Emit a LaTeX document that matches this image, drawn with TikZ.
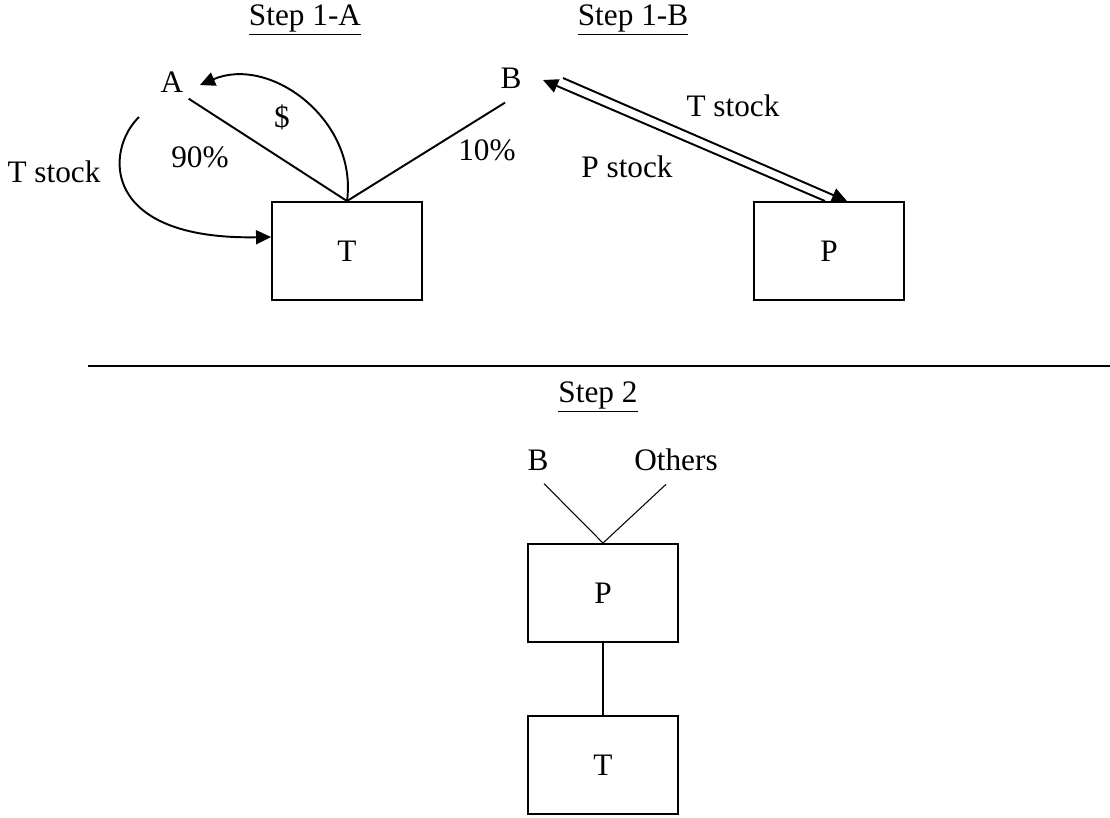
\documentclass[tikz,border=0pt]{standalone}
\usepackage{fontspec}
\setmainfont{Liberation Serif}
\usetikzlibrary{positioning}
\usetikzlibrary{arrows.meta}

\begin{document}
\begin{tikzpicture}[x=0.02cm,y=-0.02cm,
  every node/.style={font=\fontsize{17.8}{21}\selectfont,inner sep=0.2cm},
  entity/.style={draw,line width=1.1pt,minimum width=3cm,minimum height=1.96cm,inner sep=0pt},
  link/.style={line width=1.1pt},
  thinlink/.style={line width=0.6pt},
  flow/.style={line width=1.1pt,-{Triangle[length=0.3cm,width=0.28cm]}}]
 \useasboundingbox (0,0) rectangle (1110,818);
 \node (headA) at (305,20) {\underline{Step 1-A}};
 \node (headB) at (633,20) {\underline{Step 1-B}};
 \node (headC) at (598,397) {\underline{Step 2}};
 \node (A) at (172,82) {A};
 \node (B) at (511,78) {B};
 \node[entity] (T) at (347,251) {T};
 \node[entity] (P) at (829,251) {P};
 \node (dollar) at (282,117) {\$};
 \node (ninety) at (200,157) {90\%};
 \node (ten) at (487,150) {10\%};
 \node (tsleft) at (54,172) {T stock};
 \node (tsright) at (733,106) {T stock};
 \node (psright) at (627,167) {P stock};
 \coordinate (tsout) at (139,117);
 \draw[link] ([xshift=-0.1cm,yshift=0.08cm]A.south east) -- (T.north);
 \draw[link] (T.north) -- ([xshift=-0.12cm,yshift=-0.08cm]B.south);
 \draw[flow] (T.north) .. controls (358,120) and (270,55) .. ([xshift=0.56cm,yshift=-0.06cm]A.center);
 \draw[flow] (tsout) .. controls (105,150) and (100,240) .. ([yshift=0.28cm]T.west);
 \draw[flow] ([xshift=1.04cm]B.center) -- ([xshift=0.36cm]P.north);
 \draw[flow] ([xshift=-0.08cm]P.north) -- ([xshift=0.64cm,yshift=-0.04cm]B.center);
 \draw[line width=1.1pt] (88,366) -- (1110,366);
 \node (B2) at (538,460) {B};
 \node (others) at (676,460) {Others};
 \node[entity] (P2) at (603,593) {P};
 \node[entity] (T2) at (603,765) {T};
 \draw[thinlink] ([xshift=0.12cm,yshift=-0.06cm]B2.south) -- (P2.north);
 \draw[thinlink] ([xshift=-0.2cm,yshift=-0.06cm]others.south) -- (P2.north);
 \draw[line width=0.9pt] (P2.south) -- (T2.north);
\end{tikzpicture}
\end{document}
